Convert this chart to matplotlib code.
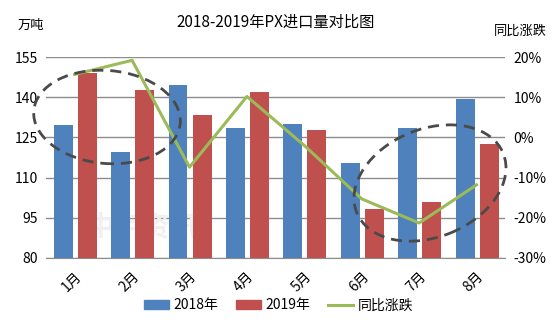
import numpy as np
import matplotlib
matplotlib.use("Agg")
import matplotlib.pyplot as plt
from matplotlib.patches import Ellipse, Patch
from matplotlib.lines import Line2D

plt.rcParams['font.family'] = ['Noto Sans CJK SC', 'DejaVu Sans']

months = ['1月', '2月', '3月', '4月', '5月', '6月', '7月', '8月']
import_2018 = [129.5, 119.7, 144.5, 128.7, 130.2, 115.6, 128.4, 139.2]
import_2019 = [149.0, 142.6, 133.2, 141.9, 127.6, 98.4, 101.0, 122.7]
yoy_pct = [15.7, 19.2, -7.4, 10.2, -2.0, -15.3, -21.3, -11.8]

blue = '#4F81BD'
red = '#C0504D'
green = '#9BBB59'
grid = '#8C8C8C'

fig = plt.figure(figsize=(5.54, 3.32), dpi=100)
ax = fig.add_axes([0.083, 0.223, 0.829, 0.605])
ax2 = ax.twinx()

x = np.arange(len(months))
w = 0.33
ax.bar(x - 0.2, import_2018, width=w, color=blue, zorder=2)
ax.bar(x + 0.22, import_2019, width=w, color=red, zorder=2)

ax.set_ylim(80, 155)
ax.set_yticks(np.arange(80, 156, 15))
ax.set_xlim(-0.5, len(months) - 0.5)
ax.yaxis.grid(True, color=grid, linewidth=1)
ax.set_axisbelow(True)
ax.set_xticks(x)
ax.set_xticklabels(months, rotation=45, ha='right', rotation_mode='anchor')
ax.tick_params(axis='x', length=0, pad=8, labelsize=10)
ax.tick_params(axis='y', length=0, pad=6, labelsize=10)
for s in ['left', 'right', 'top']:
    ax.spines[s].set_visible(False)
ax.spines['bottom'].set_color(grid)

# faint watermark behind the bars
ax.text(0.21, 0.15, '中宇资讯', transform=ax.transAxes, fontsize=20,
        color='#f0f0f0', ha='center', va='center', fontweight='bold', zorder=1)

ax2.plot(x, yoy_pct, color=green, linewidth=2.2, zorder=3)
ax2.set_ylim(-30, 20)
ax2.set_yticks(np.arange(-30, 21, 10))
ax2.set_yticklabels([f'{v}%' for v in range(-30, 21, 10)])
ax2.tick_params(axis='y', length=0, pad=6, labelsize=10)
for s in ['left', 'right', 'top', 'bottom']:
    ax2.spines[s].set_visible(False)

# dashed highlight ellipses (inches, from the bottom-left corner)
for cx, cy, ew, eh, ang in [(1.07, 2.15, 1.47, 0.93, -5), (4.30, 1.49, 1.58, 1.08, 22)]:
    ax2.add_patch(Ellipse((cx, cy), ew, eh, angle=ang, fill=False,
                          edgecolor='#4a4a4a', linestyle=(0, (4, 2.5)),
                          linewidth=2, transform=fig.dpi_scale_trans,
                          clip_on=False, zorder=4))

fig.text(0.497, 0.932, '2018-2019年PX进口量对比图', ha='center', va='center',
         fontsize=11)
fig.text(0.055, 0.925, '万吨', ha='center', va='center', fontsize=9.5)
fig.text(0.94, 0.905, '同比涨跌', ha='center', va='center', fontsize=9.5)

handles = [Patch(color=blue, label='2018年'),
           Patch(color=red, label='2019年'),
           Line2D([0], [0], color=green, linewidth=2.2, label='同比涨跌')]
fig.legend(handles=handles, loc='center', bbox_to_anchor=(0.503, 0.08), ncol=3,
           frameon=False, fontsize=10, handlelength=1.8, handleheight=0.6,
           columnspacing=1.3, handletextpad=0.3)

fig.savefig('out.png', dpi=100, facecolor='white')
